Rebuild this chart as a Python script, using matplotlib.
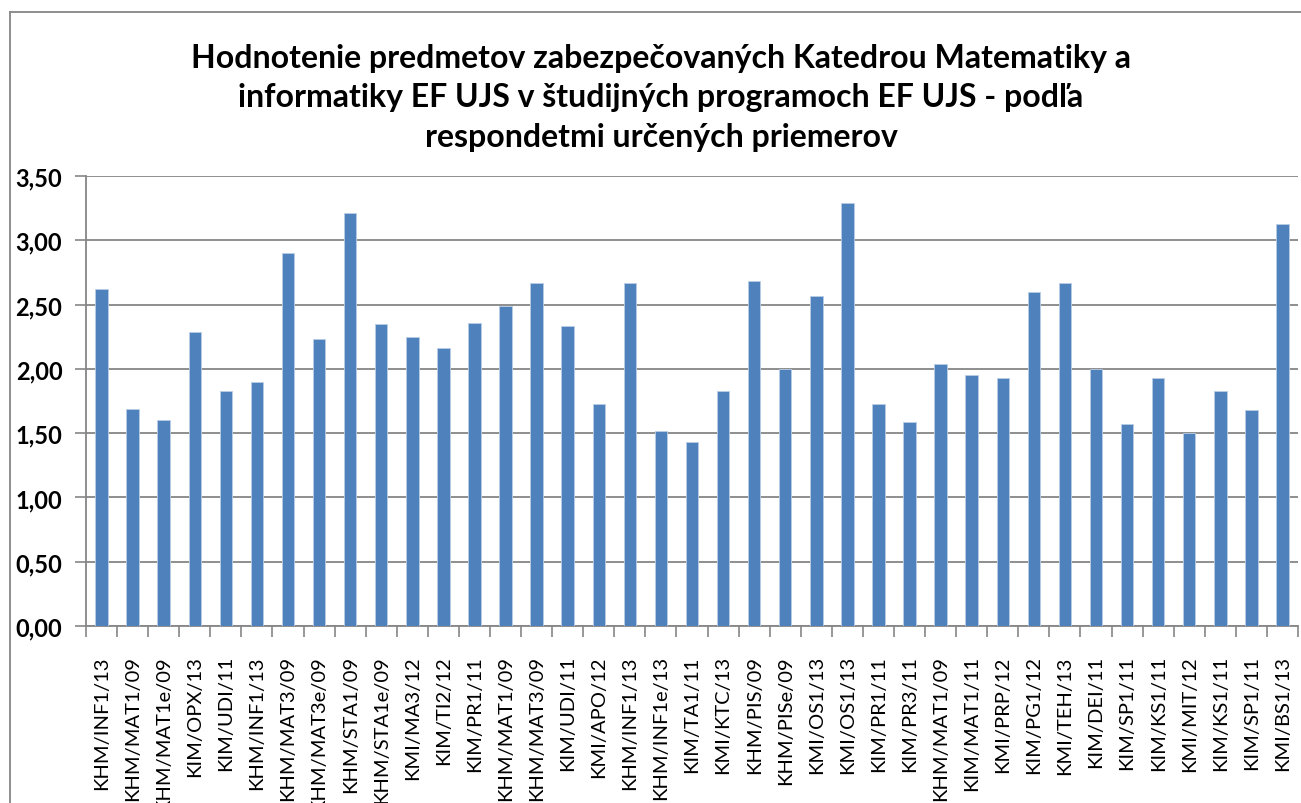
import numpy as np
import matplotlib
matplotlib.use("Agg")
import matplotlib.pyplot as plt
from matplotlib.lines import Line2D
from matplotlib.ticker import FixedLocator, FuncFormatter

plt.rcParams['font.family'] = ['Lato', 'DejaVu Sans']

# course codes along the x axis
courses = [
    'KHM/INF1/13', 'KHM/MAT1/09', 'KHM/MAT1e/09', 'KIM/OPX/13', 'KIM/UDI/11',
    'KHM/INF1/13', 'KHM/MAT3/09', 'KHM/MAT3e/09', 'KHM/STA1/09', 'KHM/STA1e/09',
    'KMI/MA3/12', 'KIM/TI2/12', 'KIM/PR1/11', 'KHM/MAT1/09', 'KHM/MAT3/09',
    'KIM/UDI/11', 'KMI/APO/12', 'KHM/INF1/13', 'KHM/INF1e/13', 'KIM/TA1/11',
    'KMI/KTC/13', 'KHM/PIS/09', 'KHM/PISe/09', 'KMI/OS1/13', 'KMI/OS1/13',
    'KIM/PR1/11', 'KIM/PR3/11', 'KHM/MAT1/09', 'KIM/MAT1/11', 'KMI/PRP/12',
    'KIM/PG1/12', 'KMI/TEH/13', 'KIM/DEI/11', 'KIM/SP1/11', 'KIM/KS1/11',
    'KMI/MIT/12', 'KIM/KS1/11', 'KIM/SP1/11', 'KMI/BS1/13',
]

# average grade given by respondents
averages = [
    2.62, 1.69, 1.60, 2.29, 1.83, 1.90, 2.90, 2.23, 3.21, 2.35,
    2.25, 2.16, 2.36, 2.49, 2.67, 2.33, 1.73, 2.67, 1.52, 1.43,
    1.83, 2.68, 2.00, 2.57, 3.29, 1.73, 1.59, 2.04, 1.95, 1.93,
    2.60, 2.67, 2.00, 1.57, 1.93, 1.50, 1.83, 1.68, 3.13,
]

y_ticks = [0.0, 0.5, 1.0, 1.5, 2.0, 2.5, 3.0, 3.5]

title = ("Hodnotenie predmetov zabezpečovaných Katedrou Matematiky a\n"
         "informatiky EF UJS v študijných programoch EF UJS - podľa\n"
         "respondetmi určených priemerov")

W, H = 1301, 804
fig = plt.figure(figsize=(W / 100, H / 100), dpi=100)
fig.patch.set_facecolor('white')

# plot area in pixels: left 86, right 1298, top 177, bottom 627
ax = fig.add_axes([86 / W, 1 - 627 / H, (1298 - 86) / W, (627 - 177) / H])

grey = '#868686'
x = np.arange(len(courses))
ax.bar(x, averages, width=0.4, color='#4F81BD', edgecolor='#B9CDE5',
       linewidth=0.6, zorder=3)

ax.set_xlim(-0.5, len(courses) - 0.5)
ax.set_ylim(0, 3.5)
ax.set_yticks(y_ticks)
ax.yaxis.set_major_formatter(FuncFormatter(lambda v, p: f"{v:.2f}".replace('.', ',')))
ax.grid(axis='y', color=grey, linewidth=1.3, zorder=0)
ax.tick_params(axis='y', length=8, width=1.2, color=grey, labelsize=17, pad=9)
for lab in ax.get_yticklabels():
    lab.set_fontweight('bold')

ax.set_xticks(x)
ax.set_xticklabels(courses, rotation=90, fontsize=14.5, va='top', ha='center')
ax.tick_params(axis='x', which='major', length=0, pad=21)
ax.xaxis.set_minor_locator(FixedLocator(np.arange(len(courses) + 1) - 0.5))
ax.tick_params(axis='x', which='minor', length=8, width=1.2, color=grey)

for side in ('top', 'right'):
    ax.spines[side].set_visible(False)
for side in ('left', 'bottom'):
    ax.spines[side].set_color(grey)
    ax.spines[side].set_linewidth(1.3)

fig.text(661 / W, 1 - 98 / H, title, ha='center', va='center', fontsize=23,
         fontweight='bold', linespacing=1.42)

# chart border (right and bottom edges are cut off in the picture)
fig.add_artist(Line2D([10 / W, 10 / W], [0, 1 - 13 / H], color=grey, lw=1.3))
fig.add_artist(Line2D([10 / W, 1], [1 - 13 / H, 1 - 13 / H], color=grey, lw=1.3))

fig.savefig('out.png', dpi=100)
